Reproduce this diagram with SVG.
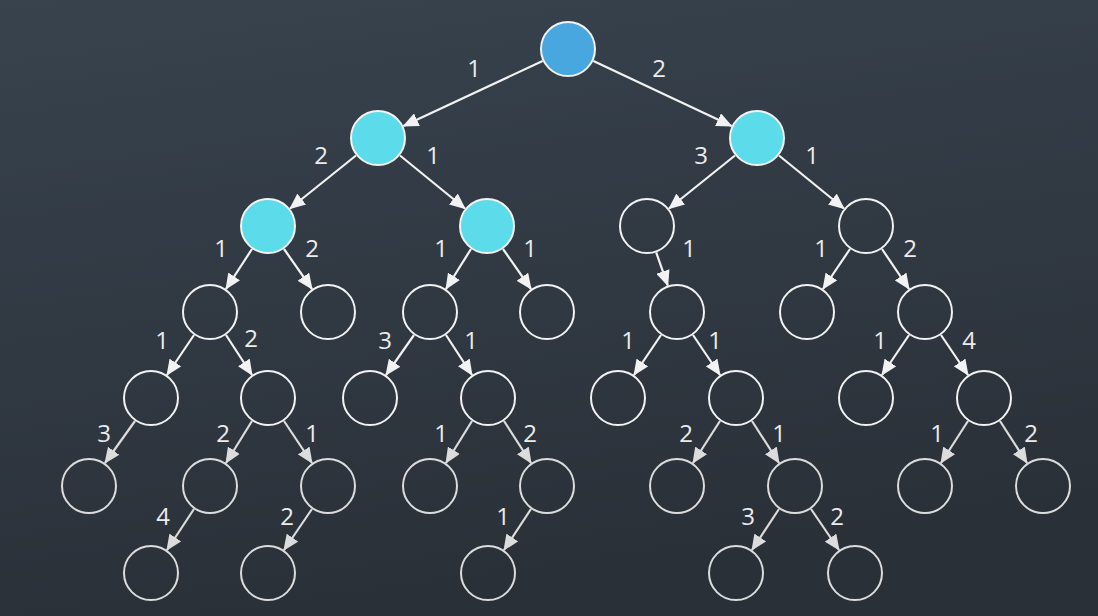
<svg xmlns="http://www.w3.org/2000/svg" width="1098" height="616" viewBox="0 0 1098 616">
<defs>
<linearGradient id="bg" x1="0" y1="0" x2="0.25" y2="1">
<stop offset="0" stop-color="#38434e"/>
<stop offset="1" stop-color="#2a3038"/>
</linearGradient>
<marker id="arr" markerUnits="userSpaceOnUse" viewBox="0 0 16 14" markerWidth="16" markerHeight="14" refX="15" refY="7" orient="auto">
<path d="M0,0 L16,7 L0,14 z" fill="#f2f2f2"/>
</marker>
<marker id="arr2" markerUnits="userSpaceOnUse" viewBox="0 0 16 14" markerWidth="16" markerHeight="14" refX="15" refY="7" orient="auto">
<path d="M0,0 L16,7 L0,14 z" fill="#dcdcdc"/>
</marker>
</defs>
<style>
.n{fill:none;stroke:#f2f2f2;stroke-width:2}
.n2{fill:none;stroke:#dcdcdc;stroke-width:2}
.root{fill:#49a7df;stroke:#f2f2f2;stroke-width:2}
.vis{fill:#5cdbeb;stroke:#f2f2f2;stroke-width:2}
.e line{stroke:#f2f2f2;stroke-width:2.2;marker-end:url(#arr)}
.e2 line{stroke:#dcdcdc;stroke-width:2.2;marker-end:url(#arr2)}
text{font-family:"Open Sans","Liberation Sans",sans-serif;font-size:24px;fill:#ececec;text-anchor:middle}
</style>
<rect width="1098" height="616" fill="url(#bg)"/>
<g id="connectors">
<g class="e">
<line x1="542.6" y1="60.9" x2="403.4" y2="126.1"/>
<line x1="593.4" y1="60.9" x2="731.6" y2="126.1"/>
<line x1="356" y1="155.5" x2="290" y2="208.5"/>
<line x1="400" y1="155.5" x2="465" y2="208.5"/>
<line x1="735" y1="155.5" x2="669" y2="208.5"/>
<line x1="779" y1="155.5" x2="844" y2="208.5"/>
<line x1="252" y1="249" x2="226" y2="289"/>
<line x1="284" y1="249" x2="312" y2="289"/>
<line x1="471" y1="249" x2="446" y2="289"/>
<line x1="503" y1="249" x2="531" y2="289"/>
<line x1="656.2" y1="252.4" x2="667.8" y2="285.6"/>
<line x1="850" y1="249" x2="823" y2="289"/>
<line x1="882" y1="249" x2="909" y2="289"/>
<line x1="194" y1="335" x2="167" y2="375"/>
<line x1="226" y1="335" x2="252" y2="375"/>
<line x1="414" y1="335" x2="386" y2="375"/>
<line x1="446" y1="335" x2="472" y2="375"/>
<line x1="661" y1="335" x2="634" y2="375"/>
<line x1="693" y1="335" x2="720" y2="375"/>
<line x1="909" y1="335" x2="882" y2="375"/>
<line x1="941" y1="335" x2="968" y2="375"/>
</g>
<g class="e2">
<line x1="135" y1="421" x2="105" y2="463"/>
<line x1="252" y1="421" x2="226" y2="463"/>
<line x1="284" y1="421" x2="312" y2="463"/>
<line x1="472" y1="421" x2="446" y2="463"/>
<line x1="504" y1="421" x2="531" y2="463"/>
<line x1="720" y1="421" x2="693" y2="463"/>
<line x1="752" y1="421" x2="779" y2="463"/>
<line x1="968" y1="421" x2="941" y2="463"/>
<line x1="1000" y1="421" x2="1027" y2="463"/>
<line x1="194" y1="509" x2="167" y2="550"/>
<line x1="312" y1="509" x2="284" y2="550"/>
<line x1="531" y1="509" x2="504" y2="550"/>
<line x1="779" y1="509" x2="752" y2="550"/>
<line x1="811" y1="509" x2="839" y2="550"/>
</g>
<g id="labels">
<text x="474" y="77">1</text><text x="659" y="77">2</text>
<text x="321" y="164">2</text><text x="433" y="164">1</text>
<text x="701" y="164">3</text><text x="812" y="164">1</text>
<text x="221" y="257">1</text><text x="312" y="257">2</text>
<text x="441" y="257">1</text><text x="530" y="257">1</text>
<text x="689" y="257">1</text>
<text x="821" y="257">1</text><text x="910" y="257">2</text>
<text x="162" y="349">1</text><text x="251" y="347">2</text>
<text x="385" y="349">3</text><text x="471" y="349">1</text>
<text x="628" y="349">1</text><text x="715" y="349">1</text>
<text x="880" y="349">1</text><text x="969" y="349">4</text>
<text x="104" y="442">3</text>
<text x="223" y="442">2</text><text x="312" y="442">1</text>
<text x="441" y="442">1</text><text x="530" y="442">2</text>
<text x="686" y="442">2</text><text x="779" y="442">1</text>
<text x="937" y="442">1</text><text x="1031" y="442">2</text>
<text x="163" y="525">4</text><text x="287" y="525">2</text>
<text x="503" y="525">1</text>
<text x="748" y="525">3</text><text x="837" y="525">2</text>
</g>
</g>
<g id="n0"><circle class="root" cx="568" cy="49" r="27"/></g>
<g id="n1"><circle class="vis" cx="378" cy="138" r="27"/></g>
<g id="n2"><circle class="vis" cx="757" cy="138" r="27"/></g>
<g id="n3"><circle class="vis" cx="268" cy="226" r="27"/></g>
<g id="n4"><circle class="vis" cx="487" cy="226" r="27"/></g>
<g id="n5"><circle class="n" cx="647" cy="226" r="27"/></g>
<g id="n6"><circle class="n" cx="866" cy="226" r="27"/></g>
<g id="n7"><circle class="n" cx="210" cy="312" r="27"/></g>
<g id="n8"><circle class="n" cx="328" cy="312" r="27"/></g>
<g id="n9"><circle class="n" cx="430" cy="312" r="27"/></g>
<g id="n10"><circle class="n" cx="547" cy="312" r="27"/></g>
<g id="n11"><circle class="n" cx="677" cy="312" r="27"/></g>
<g id="n12"><circle class="n" cx="807" cy="312" r="27"/></g>
<g id="n13"><circle class="n" cx="925" cy="312" r="27"/></g>
<g id="n14"><circle class="n" cx="151" cy="398" r="27"/></g>
<g id="n15"><circle class="n" cx="268" cy="398" r="27"/></g>
<g id="n16"><circle class="n" cx="370" cy="398" r="27"/></g>
<g id="n17"><circle class="n" cx="488" cy="398" r="27"/></g>
<g id="n18"><circle class="n" cx="618" cy="398" r="27"/></g>
<g id="n19"><circle class="n" cx="736" cy="398" r="27"/></g>
<g id="n20"><circle class="n" cx="866" cy="398" r="27"/></g>
<g id="n21"><circle class="n" cx="984" cy="398" r="27"/></g>
<g id="n22"><circle class="n2" cx="89" cy="486" r="27"/></g>
<g id="n23"><circle class="n2" cx="210" cy="486" r="27"/></g>
<g id="n24"><circle class="n2" cx="328" cy="486" r="27"/></g>
<g id="n25"><circle class="n2" cx="430" cy="486" r="27"/></g>
<g id="n26"><circle class="n2" cx="547" cy="486" r="27"/></g>
<g id="n27"><circle class="n2" cx="677" cy="486" r="27"/></g>
<g id="n28"><circle class="n2" cx="795" cy="486" r="27"/></g>
<g id="n29"><circle class="n2" cx="925" cy="486" r="27"/></g>
<g id="n30"><circle class="n2" cx="1043" cy="486" r="27"/></g>
<g id="n31"><circle class="n2" cx="151" cy="573" r="27"/></g>
<g id="n32"><circle class="n2" cx="268" cy="573" r="27"/></g>
<g id="n33"><circle class="n2" cx="488" cy="573" r="27"/></g>
<g id="n34"><circle class="n2" cx="736" cy="573" r="27"/></g>
<g id="n35"><circle class="n2" cx="855" cy="573" r="27"/></g>
</svg>
